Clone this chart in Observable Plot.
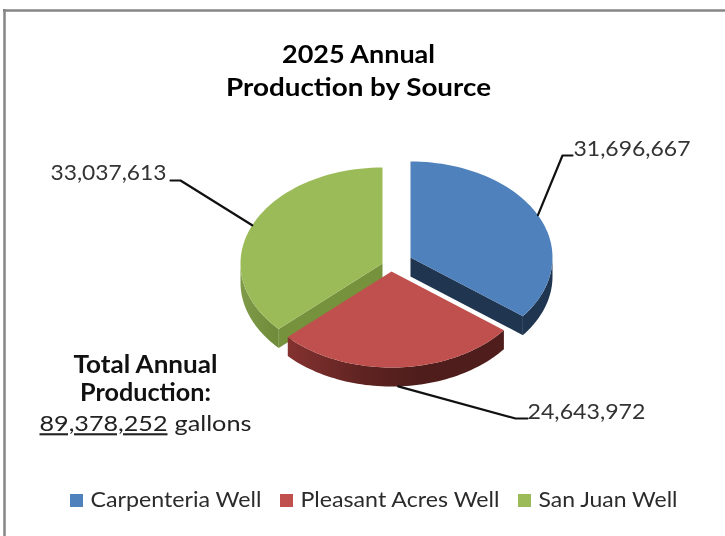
<!DOCTYPE html>
<html>
<head>
<meta charset="utf-8">
<script src="https://cdn.jsdelivr.net/npm/d3@7"></script>
<script src="https://cdn.jsdelivr.net/npm/@observablehq/plot@0.6"></script>
<style>
html,body{margin:0;padding:0;background:#fff}
svg text{font-family:Lato,sans-serif}
svg{filter:blur(0.35px)}
</style>
</head>
<body>
<div id="chart"></div>
<script>
// Data
const sources = ["Carpenteria Well", "Pleasant Acres Well", "San Juan Well"];
const gallons = [31696667, 24643972, 33037613];
const topColors = ["#4f81bd", "#c0504d", "#9bbb59"];
const titleLines = ["2025 Annual", "Production by Source"];
const totalLines = ["Total Annual", "Production:"];
const totalFigure = "89,378,252";
const totalUnit = "gallons";

// Layout of the exploded, tilted pie (pixels)
const rx = 142, ry = 96, depth = 19;
const apex = [[410, 257], [391, 271], [382, 263]];
const labelPos = [[573, 149, "start"], [527, 412, "start"], [166, 173, "end"]];
const elbows = [[[562, 155], [572, 155]], [[515, 418], [527, 418]], [[180, 180], [170, 180]]];
const legendX = [70, 280, 518];
// Rendered widths of the stretched text in the picture
const fmt = d3.format(",");
const textWidths = new Map([
  [titleLines[0], 153], [titleLines[1], 265],
  [totalLines[0], 144], [totalLines[1], 131],
  [totalFigure, 128], [totalUnit, 77],
  [fmt(gallons[0]), 117], [fmt(gallons[1]), 118], [fmt(gallons[2]), 116],
  [sources[0], 171], [sources[1], 199], [sources[2], 139]
]);

const total = d3.sum(gallons);
let acc = 0;
const slices = gallons.map((v, i) => {
  const a0 = acc / total * 2 * Math.PI;
  acc += v;
  const a1 = acc / total * 2 * Math.PI;
  return {i, a0, a1, mid: (a0 + a1) / 2, cx: apex[i][0], cy: apex[i][1]};
});
const rim = (s, a, dz = 0) => ({x: s.cx + rx * Math.sin(a), y: s.cy - ry * Math.cos(a) + dz});
const arc = (s, a0, a1, dz = 0) => d3.range(0, 61).map(k => rim(s, a0 + (a1 - a0) * k / 60, dz));
const topFace = s => [{x: s.cx, y: s.cy}, ...arc(s, s.a0, s.a1)];
const sideFace = (s, a0, a1) => [...arc(s, a0, a1), ...arc(s, a0, a1, depth).reverse()];
const cutFace = (s, a) => {
  const p = rim(s, a);
  return [{x: s.cx, y: s.cy}, p, {x: p.x, y: p.y + depth}, {x: s.cx, y: s.cy + depth}];
};
const poly = (pts, fill) => Plot.line(pts, {x: "x", y: "y", fill, stroke: "none"});

const [blue, red, green] = slices;
const HALF = Math.PI / 2;

const defs = () => {
  const svg = d3.create("svg:defs");
  const grad = (id, stops) => {
    const g = svg.append("linearGradient").attr("id", id);
    stops.forEach(([o, c]) => g.append("stop").attr("offset", o).attr("stop-color", c));
  };
  grad("redSide", [[0, "#843230"], [0.35, "#5e2321"], [0.6, "#4f1e1c"], [1, "#4f1e1c"]]);
  grad("greenSide", [[0, "#7f9b49"], [1, "#6f8a39"]]);
  return svg.node();
};

const leaders = slices.map((s, i) => {
  const p = rim(s, s.mid, i === 1 ? depth : 0);
  return [p, ...elbows[i].map(([x, y]) => ({x, y}))];
});

const plot = Plot.plot({
  width: 725, height: 536, margin: 0,
  x: {domain: [0, 725], range: [0, 725], axis: null},
  y: {domain: [0, 536], range: [0, 536], axis: null},
  marks: [
    defs,
    // outer chart frame (top and left only are in view)
    Plot.ruleY([10], {x1: 3, x2: 725, stroke: "#868686", strokeWidth: 2.5}),
    Plot.ruleX([4], {y1: 9, y2: 536, stroke: "#868686", strokeWidth: 2.5}),
    // San Juan
    poly(sideFace(green, green.a0, 3 * HALF), "url(#greenSide)"),
    poly(cutFace(green, green.a0), "#76923c"),
    poly(topFace(green), topColors[2]),
    // Carpenteria
    poly(sideFace(blue, HALF, blue.a1), "#1f3550"),
    poly(cutFace(blue, blue.a1), "#1f3550"),
    poly(topFace(blue), topColors[0]),
    // Pleasant Acres
    poly(sideFace(red, red.a0, red.a1), "url(#redSide)"),
    poly(topFace(red), topColors[1]),
    // leader lines
    ...leaders.map(l => Plot.line(l, {x: "x", y: "y", stroke: "#111", strokeWidth: 2.2, strokeLinejoin: "round"})),
    // value labels
    ...[0, 1, 2].map(i => Plot.text([fmt(gallons[i])], {
      x: labelPos[i][0], y: labelPos[i][1], text: d => d, textAnchor: labelPos[i][2],
      fontSize: 21, fill: "#333"
    })),
    // title
    Plot.text(titleLines, {x: 358, y: (d, i) => 54 + i * 33, text: d => d, fontSize: 25, fontWeight: 700, fill: "#000"}),
    // total annotation
    Plot.text(totalLines, {x: 145, y: (d, i) => 365 + i * 28, text: d => d, fontSize: 24, fontWeight: 700, fill: "#111"}),
    Plot.text([totalFigure], {x: 39, y: 424, text: d => d, textAnchor: "start", fontSize: 21, fill: "#222"}),
    Plot.text([totalUnit], {x: 174, y: 424, text: d => d, textAnchor: "start", fontSize: 21, fill: "#222"}),
    // legend
    Plot.rect(sources, {x1: (d, i) => legendX[i], x2: (d, i) => legendX[i] + 13, y1: 494, y2: 507,
      fill: (d, i) => topColors[i]}),
    Plot.text(sources, {x: (d, i) => legendX[i] + 20, y: 500, text: d => d, textAnchor: "start", fontSize: 21, fill: "#2b2b2b"})
  ]
});
plot.style.background = "#fff";
document.getElementById("chart").appendChild(plot);
plot.querySelectorAll("text").forEach(t => {
  const w = textWidths.get(t.textContent);
  if (w) { t.setAttribute("textLength", w); t.setAttribute("lengthAdjust", "spacingAndGlyphs"); }
  if (t.textContent === totalFigure) { t.style.textDecoration = "underline"; t.style.textDecorationSkipInk = "none"; }
});
</script>
</body>
</html>
